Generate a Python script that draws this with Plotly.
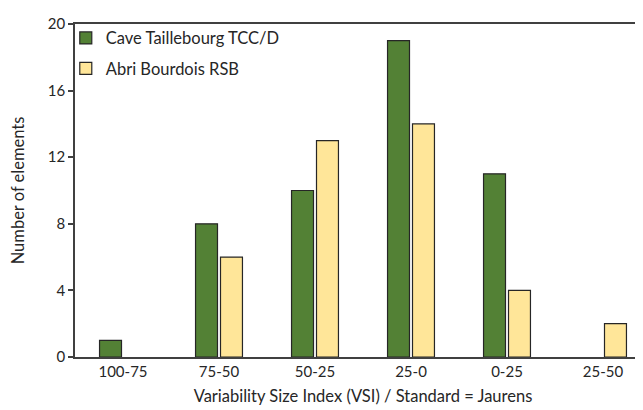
import plotly.graph_objects as go

categories = ["100-75", "75-50", "50-25", "25-0", "0-25", "25-50"]
taillebourg = [1, 8, 10, 19, 11, None]
bourdois = [None, 6, 13, 14, 4, 2]
y_ticks = [0, 4, 8, 12, 16, 20]

font = "Lato, 'Open Sans', sans-serif"
axis_col = "#404040"
text_col = "#262626"

fig = go.Figure()
fig.add_trace(go.Bar(
    x=categories, y=taillebourg, name="Cave Taillebourg TCC/D",
    marker=dict(color="#538135", line=dict(color="#262626", width=1.2)),
    legendgroup="a",
))
fig.add_trace(go.Bar(
    x=categories, y=bourdois, name="Abri Bourdois RSB",
    marker=dict(color="#FFE699", line=dict(color="#262626", width=1.2)),
    legendgroup="b",
))

fig.update_layout(
    width=643, height=410,
    margin=dict(l=67, r=0, t=16, b=61),
    paper_bgcolor="white", plot_bgcolor="white",
    barmode="group", bargap=0.48, bargroupgap=0.12,
    font=dict(family=font, size=16, color=text_col),
    legend=dict(
        x=-0.016, y=1.01, xanchor="left", yanchor="top",
        bgcolor="rgba(0,0,0,0)", font=dict(size=16.5, color=text_col),
        tracegroupgap=6, traceorder="grouped", itemwidth=30,
    ),
    xaxis=dict(
        type="category", range=[-0.5, 5.5],
        showline=True, linecolor=axis_col, linewidth=1.6, mirror=True,
        ticks="", showgrid=False,
        tickfont=dict(size=15, color=text_col),
        title=dict(text="Variability Size Index (VSI) / Standard = Jaurens",
                   font=dict(size=16.5, color=text_col), standoff=12),
    ),
    yaxis=dict(
        range=[0, 20], tickvals=y_ticks,
        showline=True, linecolor=axis_col, linewidth=1.6,
        ticks="outside", ticklen=5, tickcolor=axis_col, tickwidth=1.5,
        showgrid=False, zeroline=False,
        tickfont=dict(size=15, color=text_col),
        title=dict(text="Number of elements", font=dict(size=16.5, color=text_col), standoff=20),
    ),
)

fig.write_html("out.html")
